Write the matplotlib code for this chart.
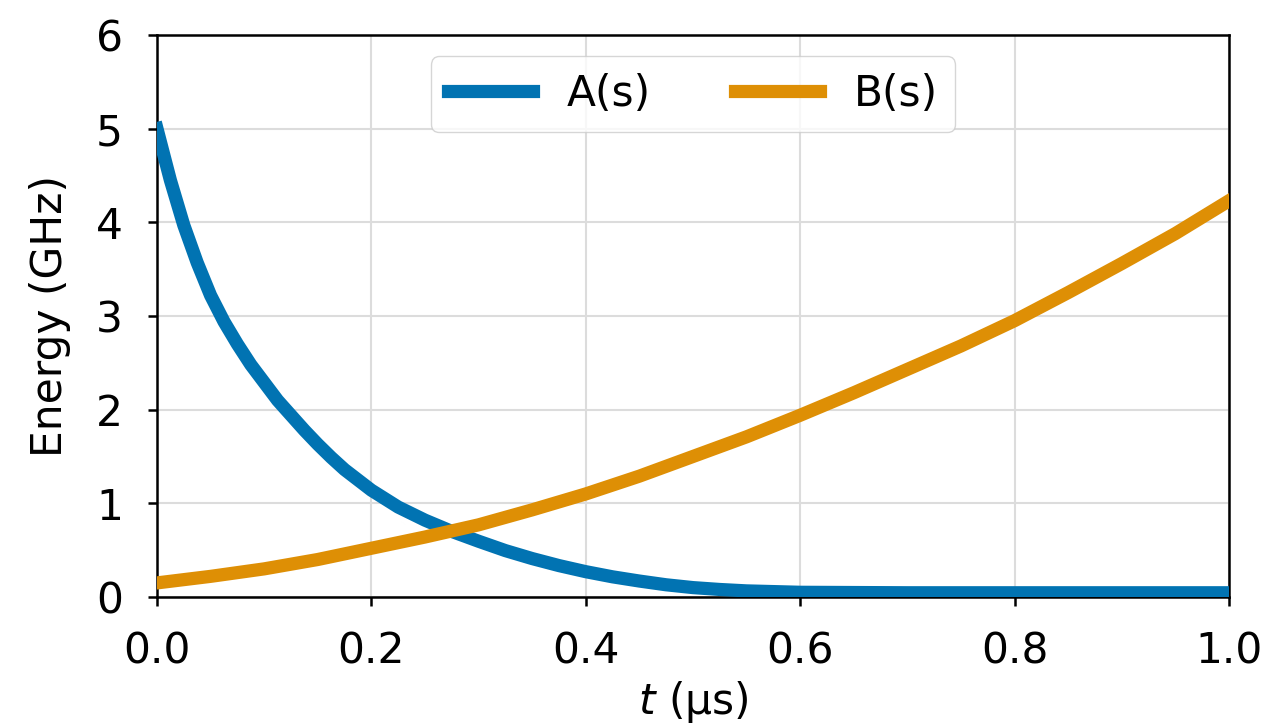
import numpy as np
import matplotlib
matplotlib.use('Agg')
import matplotlib.pyplot as plt

# Values
t_a = [0.0, 0.0125, 0.025, 0.0375, 0.05, 0.0625, 0.075, 0.0875, 0.10,
       0.1125, 0.125, 0.1375, 0.15, 0.1625, 0.175, 0.1875, 0.20,
       0.225, 0.25, 0.275, 0.30, 0.325, 0.35, 0.375, 0.40, 0.425, 0.45,
       0.475, 0.50, 0.525, 0.55, 0.60, 0.70, 0.80, 0.90, 1.0]
a_vals = [5.00, 4.45, 3.97, 3.57, 3.22, 2.94, 2.70, 2.48, 2.29,
          2.10, 1.94, 1.78, 1.63, 1.49, 1.36, 1.25, 1.14,
          0.96, 0.82, 0.70, 0.595, 0.495, 0.41, 0.335, 0.27, 0.215, 0.17,
          0.13, 0.10, 0.08, 0.065, 0.05, 0.045, 0.045, 0.045, 0.045]

t_b = [0.0, 0.05, 0.10, 0.15, 0.20, 0.25, 0.30, 0.35, 0.40, 0.45, 0.50,
       0.55, 0.60, 0.65, 0.70, 0.75, 0.80, 0.85, 0.90, 0.95, 1.0]
b_vals = [0.15, 0.22, 0.30, 0.40, 0.52, 0.64, 0.77, 0.93, 1.10, 1.29, 1.50,
          1.71, 1.94, 2.18, 2.43, 2.68, 2.95, 3.25, 3.56, 3.88, 4.23]

x_ticks = [0.0, 0.2, 0.4, 0.6, 0.8, 1.0]
y_ticks = [0, 1, 2, 3, 4, 5, 6]

plt.rcParams['font.size'] = 30.5
plt.rcParams['axes.linewidth'] = 1.8

fig = plt.figure(figsize=(12.68, 7.25), dpi=100)
ax = fig.add_axes([0.1238, 0.1766, 0.8454, 0.7751])

ax.plot(t_a, a_vals, color='#0173b2', lw=9.5, label='A(s)', zorder=3,
        solid_joinstyle='round')
ax.plot(t_b, b_vals, color='#de8f05', lw=9.5, label='B(s)', zorder=3,
        solid_joinstyle='round')

ax.set_xlim(0, 1)
ax.set_ylim(0, 6)
ax.set_xticks(x_ticks)
ax.set_yticks(y_ticks)
ax.grid(True, color='#dcdcdc', lw=1.5)
ax.set_axisbelow(True)
ax.tick_params(length=6.5, width=1.8, pad=18)

ax.set_xlabel(r'$t$ ($\mathrm{\mu}$s)', labelpad=4)
ax.set_ylabel('Energy (GHz)', labelpad=18)

ax.legend(loc='upper center', ncol=2, handlelength=2.0, handletextpad=0.8,
          columnspacing=2.0, borderaxespad=0.5, framealpha=0.8,
          edgecolor='#cccccc')

fig.savefig('out.png', dpi=100)
